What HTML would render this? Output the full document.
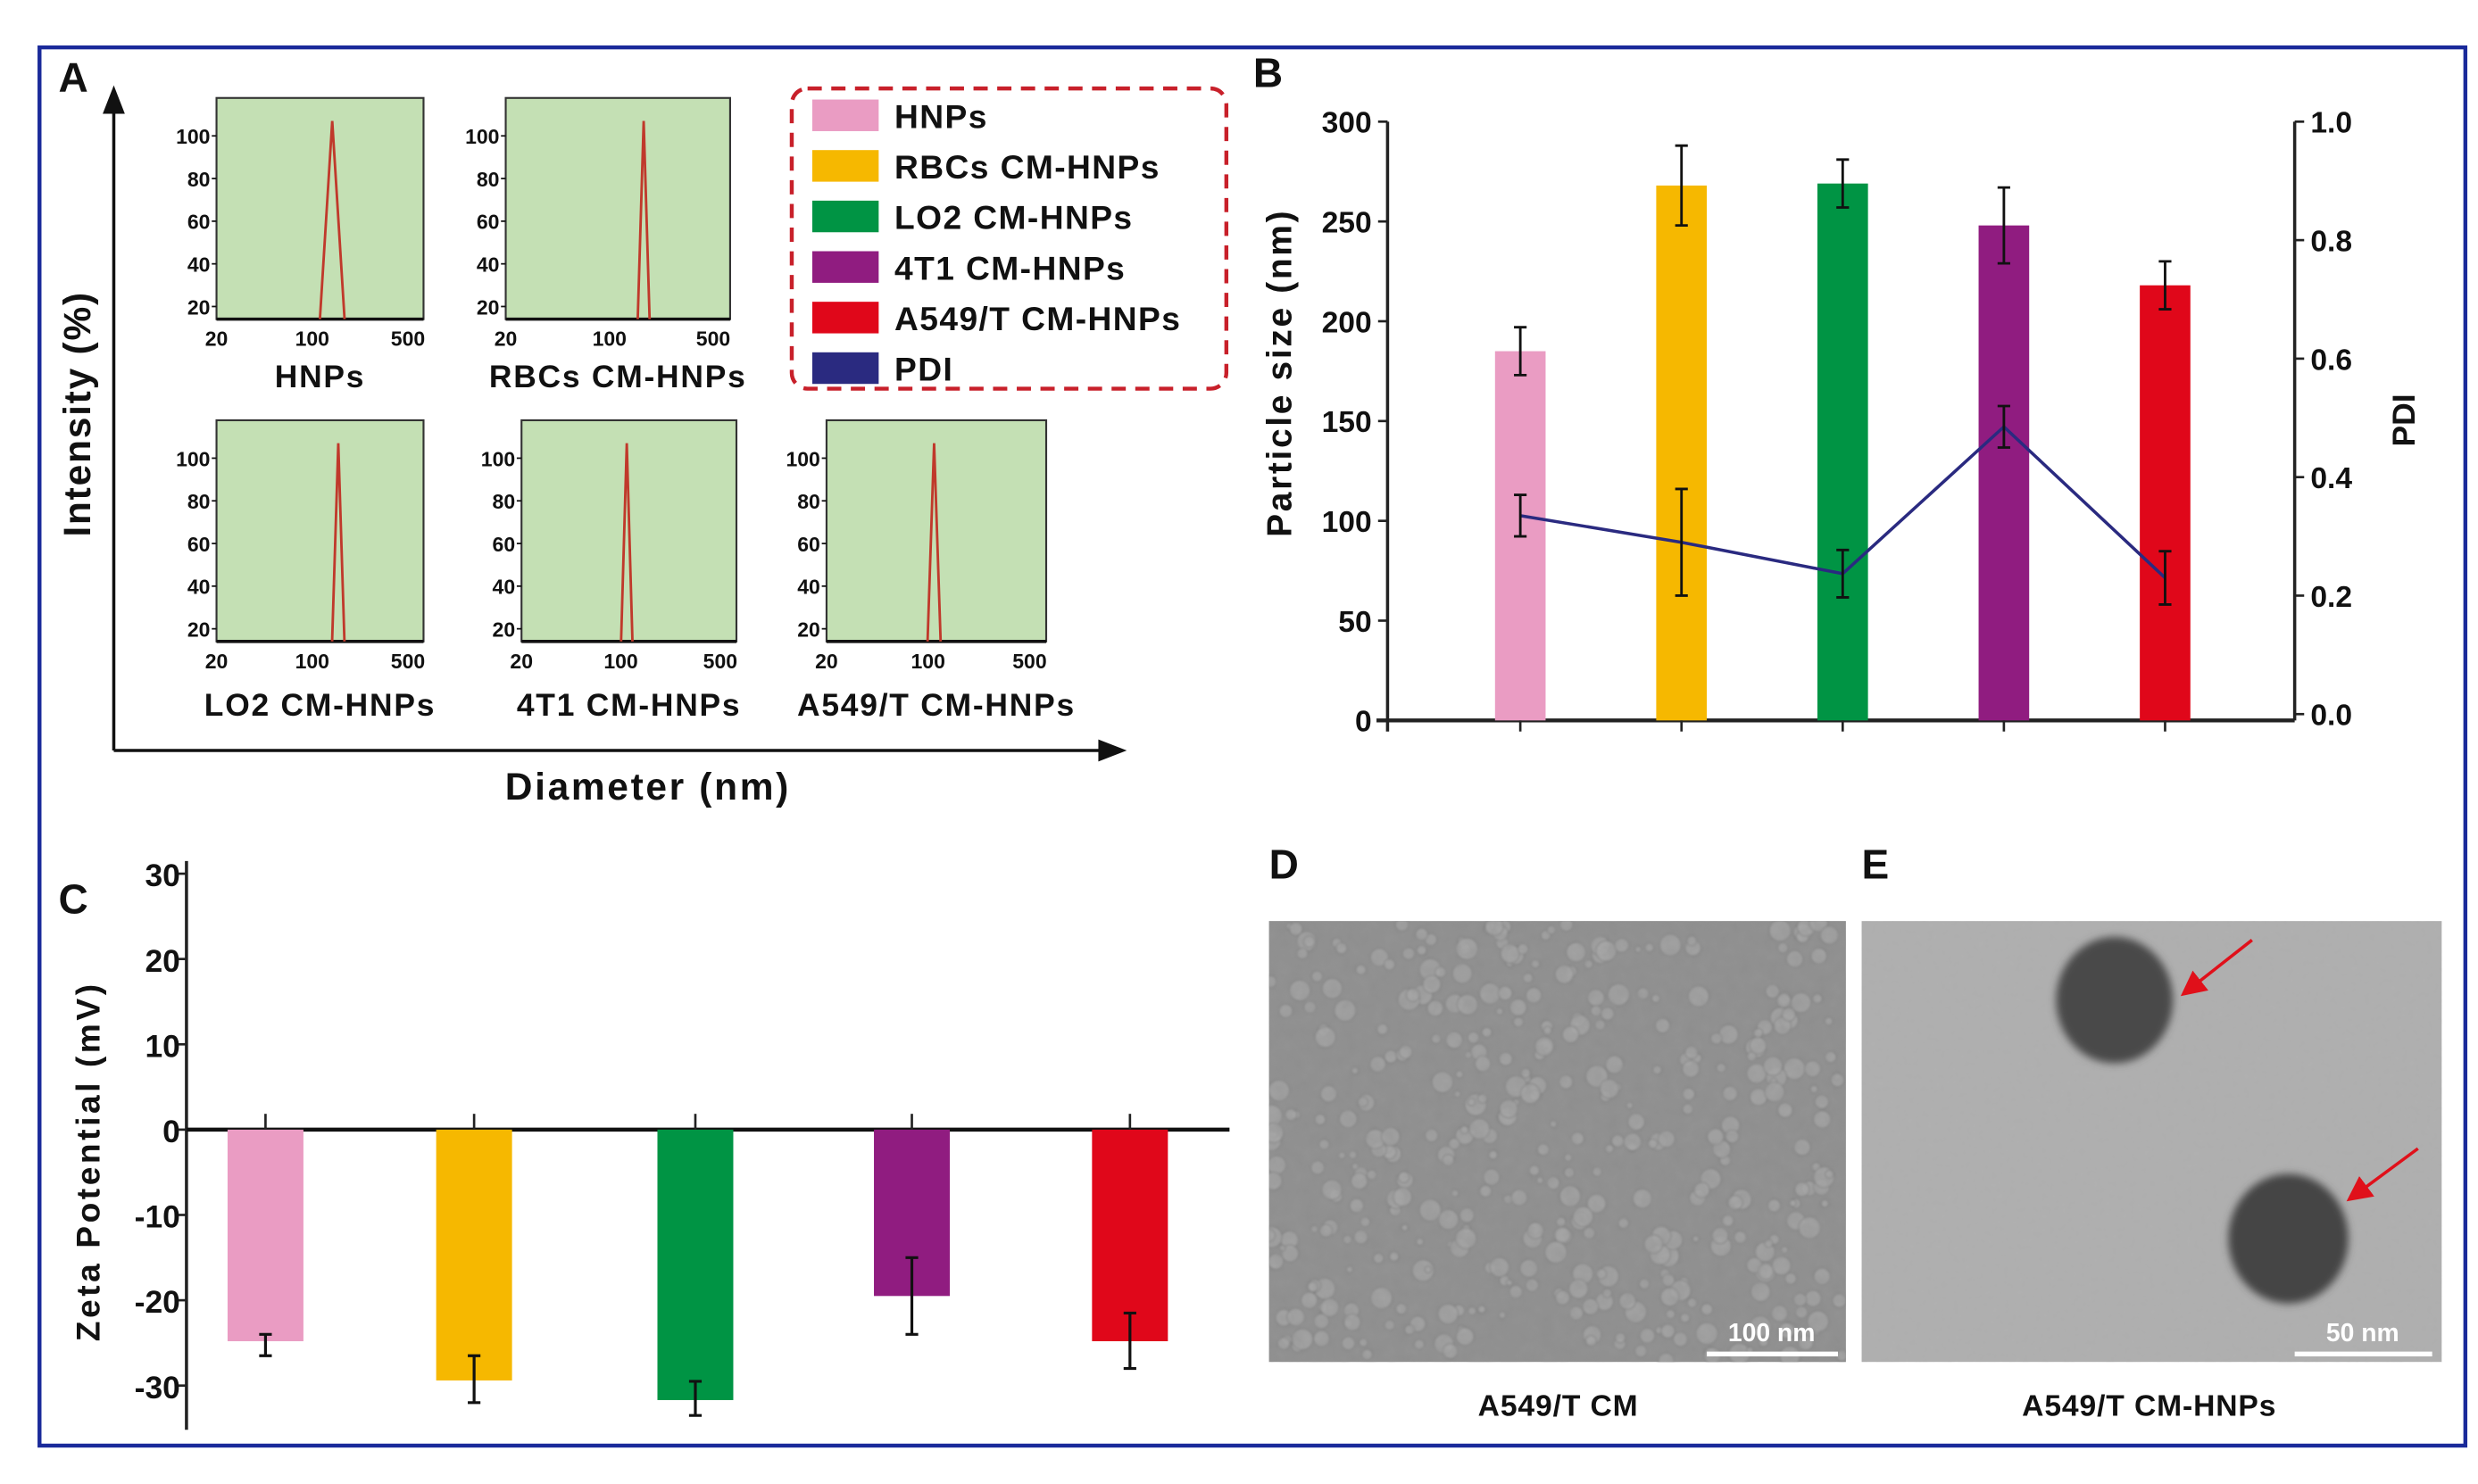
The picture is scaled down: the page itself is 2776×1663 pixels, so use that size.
<!DOCTYPE html>
<html><head><meta charset="utf-8">
<style>
html,body{margin:0;padding:0;background:#fff;}
svg{display:block;}
text{font-family:"Liberation Sans",sans-serif;font-weight:bold;fill:#111;}
</style></head>
<body>
<svg id="fig" width="2776" height="1663" viewBox="0 0 1568 939.3" preserveAspectRatio="none" xmlns="http://www.w3.org/2000/svg">
<defs>
<filter id="noiseD" x="0" y="0" width="100%" height="100%">
<feTurbulence type="fractalNoise" baseFrequency="0.12" numOctaves="3" seed="3"/>
<feColorMatrix type="matrix" values="0 0 0 0 0.3  0 0 0 0 0.3  0 0 0 0 0.3  0 0 0 0.7 0"/>
</filter>
<filter id="noiseE" x="0" y="0" width="100%" height="100%">
<feTurbulence type="fractalNoise" baseFrequency="0.25" numOctaves="2" seed="7"/>
<feColorMatrix type="matrix" values="0 0 0 0 0.4  0 0 0 0 0.4  0 0 0 0 0.4  0 0 0 0.35 0"/>
</filter>
<filter id="blur2"><feGaussianBlur stdDeviation="2.5"/></filter>
<filter id="blur1"><feGaussianBlur stdDeviation="0.8"/></filter>
<clipPath id="clipD"><rect x="803" y="583" width="365" height="279"/></clipPath>
<marker id="arrowR" markerWidth="8" markerHeight="8" refX="6" refY="4" orient="auto"><path d="M0,0 L8,4 L0,8 Z" fill="#e0101a"/></marker>
</defs>
<rect x="25" y="30" width="1535" height="885" fill="none" stroke="#1a2a9a" stroke-width="2.5"/>

<!-- Panel A -->
<g id="panelA">
<text x="37" y="58" font-size="26">A</text>
<line x1="72" y1="475" x2="72" y2="66" stroke="#111" stroke-width="2"/>
<path d="M72,54 L65,72 L79,72 Z" fill="#111"/>
<line x1="72" y1="475" x2="698" y2="475" stroke="#111" stroke-width="2"/>
<path d="M713,475 L695,468 L695,482 Z" fill="#111"/>
<text transform="translate(57,262) rotate(-90)" text-anchor="middle" font-size="24" letter-spacing="1">Intensity (%)</text>
<text x="410" y="506" text-anchor="middle" font-size="24" letter-spacing="1.5">Diameter (nm)</text>
</g>

<g id="legend">
<rect x="501" y="56" width="275" height="190" rx="10" fill="none" stroke="#c8202a" stroke-width="2.5" stroke-dasharray="9,6"/>
</g>

<!-- Panel B -->
<g id="panelB">
<text x="793" y="55" font-size="26">B</text>
<text transform="translate(817,236) rotate(-90)" text-anchor="middle" font-size="22" letter-spacing="1.5">Particle size (nm)</text>
<text transform="translate(1528,266) rotate(-90)" text-anchor="middle" font-size="20">PDI</text>
</g>

<!-- Panel C -->
<g id="panelC">
<text x="37" y="578" font-size="26">C</text>
<text transform="translate(63,735) rotate(-90)" text-anchor="middle" font-size="21" letter-spacing="2">Zeta Potential (mV)</text>
</g>

<!-- Panel D -->
<g id="panelD">
<text x="803" y="556" font-size="26">D</text>
<rect x="803" y="583" width="365" height="279" fill="#8e8e8e"/>
<g id="dotsD" clip-path="url(#clipD)" filter="url(#blur1)"></g>
<rect x="803" y="583" width="365" height="279" filter="url(#noiseD)"/>
<line x1="1080" y1="857" x2="1163" y2="857" stroke="#fff" stroke-width="3"/>
<text x="1121" y="849" text-anchor="middle" font-size="16" style="fill:#fff">100 nm</text>
<text x="986" y="896" text-anchor="middle" font-size="19" letter-spacing="0.5">A549/T CM</text>
</g>

<!-- Panel E -->
<g id="panelE">
<text x="1178" y="556" font-size="26">E</text>
<rect x="1178" y="583" width="367" height="279" fill="#b0b0b0"/>
<rect x="1178" y="583" width="367" height="279" filter="url(#noiseE)"/>
<ellipse cx="1338" cy="633" rx="37" ry="40" fill="#4a4a4a" filter="url(#blur2)"/>
<ellipse cx="1448" cy="784" rx="38" ry="41" fill="#444" filter="url(#blur2)"/>
<line x1="1425" y1="595" x2="1383" y2="628" stroke="#e0101a" stroke-width="2" marker-end="url(#arrowR)"/>
<line x1="1530" y1="727" x2="1488" y2="758" stroke="#e0101a" stroke-width="2" marker-end="url(#arrowR)"/>
<line x1="1452" y1="857" x2="1539" y2="857" stroke="#fff" stroke-width="3"/>
<text x="1495" y="849" text-anchor="middle" font-size="16" style="fill:#fff">50 nm</text>
<text x="1360" y="896" text-anchor="middle" font-size="19" letter-spacing="0.5">A549/T CM-HNPs</text>
</g>
</svg>

<script>
// ---- data ----
const categories = ["HNPs","RBCs CM-HNPs","LO2 CM-HNPs","4T1 CM-HNPs","A549/T CM-HNPs"];
const colors = ["#ea9cc3","#f6b800","#009444","#901c80","#e0071a"];
const pdiColor = "#2a2a80";
const sizeValues = [185, 268, 269, 248, 218];
const sizeErrors = [12, 20, 12, 19, 12];
const pdiValues = [0.335, 0.29, 0.237, 0.485, 0.23];
const pdiErrors = [0.035, 0.09, 0.04, 0.035, 0.045];
const sizeTicks = [0,50,100,150,200,250,300];
const pdiTicks = [0.0,0.2,0.4,0.6,0.8,1.0];
const zetaValues = [-24.8, -29.4, -31.7, -19.5, -24.8];
const zetaErrLow = [-26.5, -32, -33.5, -24, -28];
const zetaErrHigh = [-24, -26.5, -29.5, -15, -21.5];
const zetaTicks = [30,20,10,0,-10,-20,-30];
const dlsPeaks = [140, 170, 155, 110, 110];
const dlsWidths = [0.09, 0.04, 0.045, 0.04, 0.045];
const dlsYTicks = [100,80,60,40,20];
const dlsXTicks = [20,100,500];
const legendLabels = ["HNPs","RBCs CM-HNPs","LO2 CM-HNPs","4T1 CM-HNPs","A549/T CM-HNPs","PDI"];

const NS = "http://www.w3.org/2000/svg";
const svg = document.getElementById('fig');
function mk(tag, attrs, parent){
  const e = document.createElementNS(NS, tag);
  for (const k in attrs) e.setAttribute(k, attrs[k]);
  (parent||svg).appendChild(e);
  return e;
}

// ---- Panel A mini DLS plots ----
const miniBoxes = [[137,62,131,140],[320,62,142,140],[137,266,131,140],[330,266,136,140],[523,266,139,140]];
miniBoxes.forEach((b,i)=>{
  const [x,y,w,h] = b;
  const g = mk('g',{});
  
  
  const r = mk('rect',{x:x,y:y,width:w,height:h,fill:"#c4e0b4",stroke:"#333","stroke-width":1.2},g);
  
  
  mk('line',{x1:x,y1:y+h,x2:x+w,y2:y+h,stroke:"#111","stroke-width":2},g);
  const lx = v => x + (Math.log10(v)-Math.log10(20))/(Math.log10(650)-Math.log10(20))*w;
  const ly = v => y + h - 8 - (v-20)/(100-20)*(h-32);
  dlsYTicks.forEach(t=>{
    mk('line',{x1:x-3,y1:ly(t),x2:x,y2:ly(t),stroke:"#111"},g);
    const tx = mk('text',{x:x-4,y:ly(t)+5,"text-anchor":"end","font-size":13},g);
    tx.textContent = t;
    
    
  });
  dlsXTicks.forEach(t=>{
    const tx = mk('text',{x:lx(t),y:y+h+17,"text-anchor":"middle","font-size":13},g);
    tx.textContent = t;
    
    
  });
  const p = dlsPeaks[i], wd = dlsWidths[i];
  const x0 = lx(p*Math.pow(10,-wd)), x1 = lx(p), x2 = lx(p*Math.pow(10,wd));
  const pk = mk('path',{d:`M${x0},${y+h} L${x1},${ly(107)} L${x2},${y+h}`,fill:"none",stroke:"#c0392b","stroke-width":1.6},g);
  
  
  const ttl = mk('text',{x:x+w/2,y:i<2?y+h+43:y+h+47,"text-anchor":"middle","font-size":20,"letter-spacing":1},g);
  ttl.textContent = categories[i];
  
  
});

// ---- Legend ----
const lg = document.getElementById('legend');
legendLabels.forEach((l,i)=>{
  const yy = 63 + i*32;
  const sw = mk('rect',{x:514,y:yy,width:42,height:20,fill:i<5?colors[i]:pdiColor},lg);
  
  
  const t = mk('text',{x:566,y:yy+18,"font-size":21,"letter-spacing":0.8},lg);
  t.textContent = l;
  
  
});

// ---- Panel B ----
const gB = document.getElementById('panelB');
const bL = 878, bR = 1452, bTop = 77, bBot = 456;
const ySize = v => bBot - v/300*(bBot-bTop);
const yPdi = v => 452 - v/1.0*(452-bTop);
const xB = i => 962 + i*102;
mk('line',{x1:bL,y1:bTop,x2:bL,y2:bBot+7,stroke:"#222","stroke-width":2},gB);
mk('line',{x1:bR,y1:bTop,x2:bR,y2:bBot,stroke:"#222","stroke-width":2},gB);
mk('line',{x1:bL-7,y1:bBot,x2:bR,y2:bBot,stroke:"#222","stroke-width":2.5},gB);
sizeTicks.forEach(t=>{
  mk('line',{x1:bL-6,y1:ySize(t),x2:bL,y2:ySize(t),stroke:"#222","stroke-width":1.5},gB);
  const tx = mk('text',{x:bL-10,y:ySize(t)+7,"text-anchor":"end","font-size":19},gB);
  tx.textContent = t;
  
  
});
pdiTicks.forEach(t=>{
  mk('line',{x1:bR,y1:yPdi(t),x2:bR+6,y2:yPdi(t),stroke:"#222","stroke-width":1.5},gB);
  const tx = mk('text',{x:bR+10,y:yPdi(t)+7,"font-size":19},gB);
  tx.textContent = t.toFixed(1);
  
  
});
sizeValues.forEach((v,i)=>{
  const cx = xB(i);
  const bar = mk('rect',{x:cx-16,y:ySize(v),width:32,height:bBot-ySize(v),fill:colors[i]},gB);
  
  
  mk('line',{x1:cx,y1:bBot,x2:cx,y2:bBot+7,stroke:"#222","stroke-width":1.5},gB);
  const e = sizeErrors[i];
  mk('path',{d:`M${cx},${ySize(v+e)} V${ySize(v-e)} M${cx-4},${ySize(v+e)} H${cx+4} M${cx-4},${ySize(v-e)} H${cx+4}`,stroke:"#111","stroke-width":1.6,fill:"none"},gB);
});
const pdiPts = pdiValues.map((v,i)=>`${xB(i)},${yPdi(v)}`).join(' ');
const pl = mk('polyline',{points:pdiPts,fill:"none",stroke:pdiColor,"stroke-width":2},gB);


pdiValues.forEach((v,i)=>{
  const cx = xB(i), e = pdiErrors[i];
  mk('path',{d:`M${cx},${yPdi(v+e)} V${yPdi(v-e)} M${cx-4},${yPdi(v+e)} H${cx+4} M${cx-4},${yPdi(v-e)} H${cx+4}`,stroke:"#111","stroke-width":1.6,fill:"none"},gB);
});

// ---- Panel C ----
const gC = document.getElementById('panelC');
const cL = 118, cZero = 715;
const yZ = v => cZero - v*5.4;
const xC = i => [168,300,440,577,715][i];
mk('line',{x1:cL,y1:545,x2:cL,y2:905,stroke:"#222","stroke-width":2},gC);
mk('line',{x1:cL,y1:cZero,x2:778,y2:cZero,stroke:"#111","stroke-width":2.5},gC);
zetaTicks.forEach(t=>{
  mk('line',{x1:cL-5,y1:yZ(t),x2:cL,y2:yZ(t),stroke:"#222","stroke-width":1.5},gC);
  const tx = mk('text',{x:cL-4,y:yZ(t)+8,"text-anchor":"end","font-size":20},gC);
  tx.textContent = t;
  
  
});
zetaValues.forEach((v,i)=>{
  const cx = xC(i);
  const bar = mk('rect',{x:cx-24,y:cZero,width:48,height:yZ(v)-cZero,fill:colors[i]},gC);
  
  
  mk('line',{x1:cx,y1:cZero-10,x2:cx,y2:cZero,stroke:"#222","stroke-width":1.5},gC);
  const hi = zetaErrHigh[i], lo = zetaErrLow[i];
  mk('path',{d:`M${cx},${yZ(hi)} V${yZ(lo)} M${cx-4},${yZ(hi)} H${cx+4} M${cx-4},${yZ(lo)} H${cx+4}`,stroke:"#111","stroke-width":1.8,fill:"none"},gC);
});

// ---- Panel D texture: vesicle dots (decorative) ----
const dD = document.getElementById('dotsD');
let s = 12345;
function rnd(){ s = (s*16807) % 2147483647; return s/2147483647; }
for (let k=0;k<420;k++){
  mk('circle',{cx:803+rnd()*365,cy:583+rnd()*279,r:2+rnd()*5,fill:"#aaaaaa",stroke:"#707070","stroke-width":0.6,opacity:0.8},dD);
}
</script>
</body></html>
